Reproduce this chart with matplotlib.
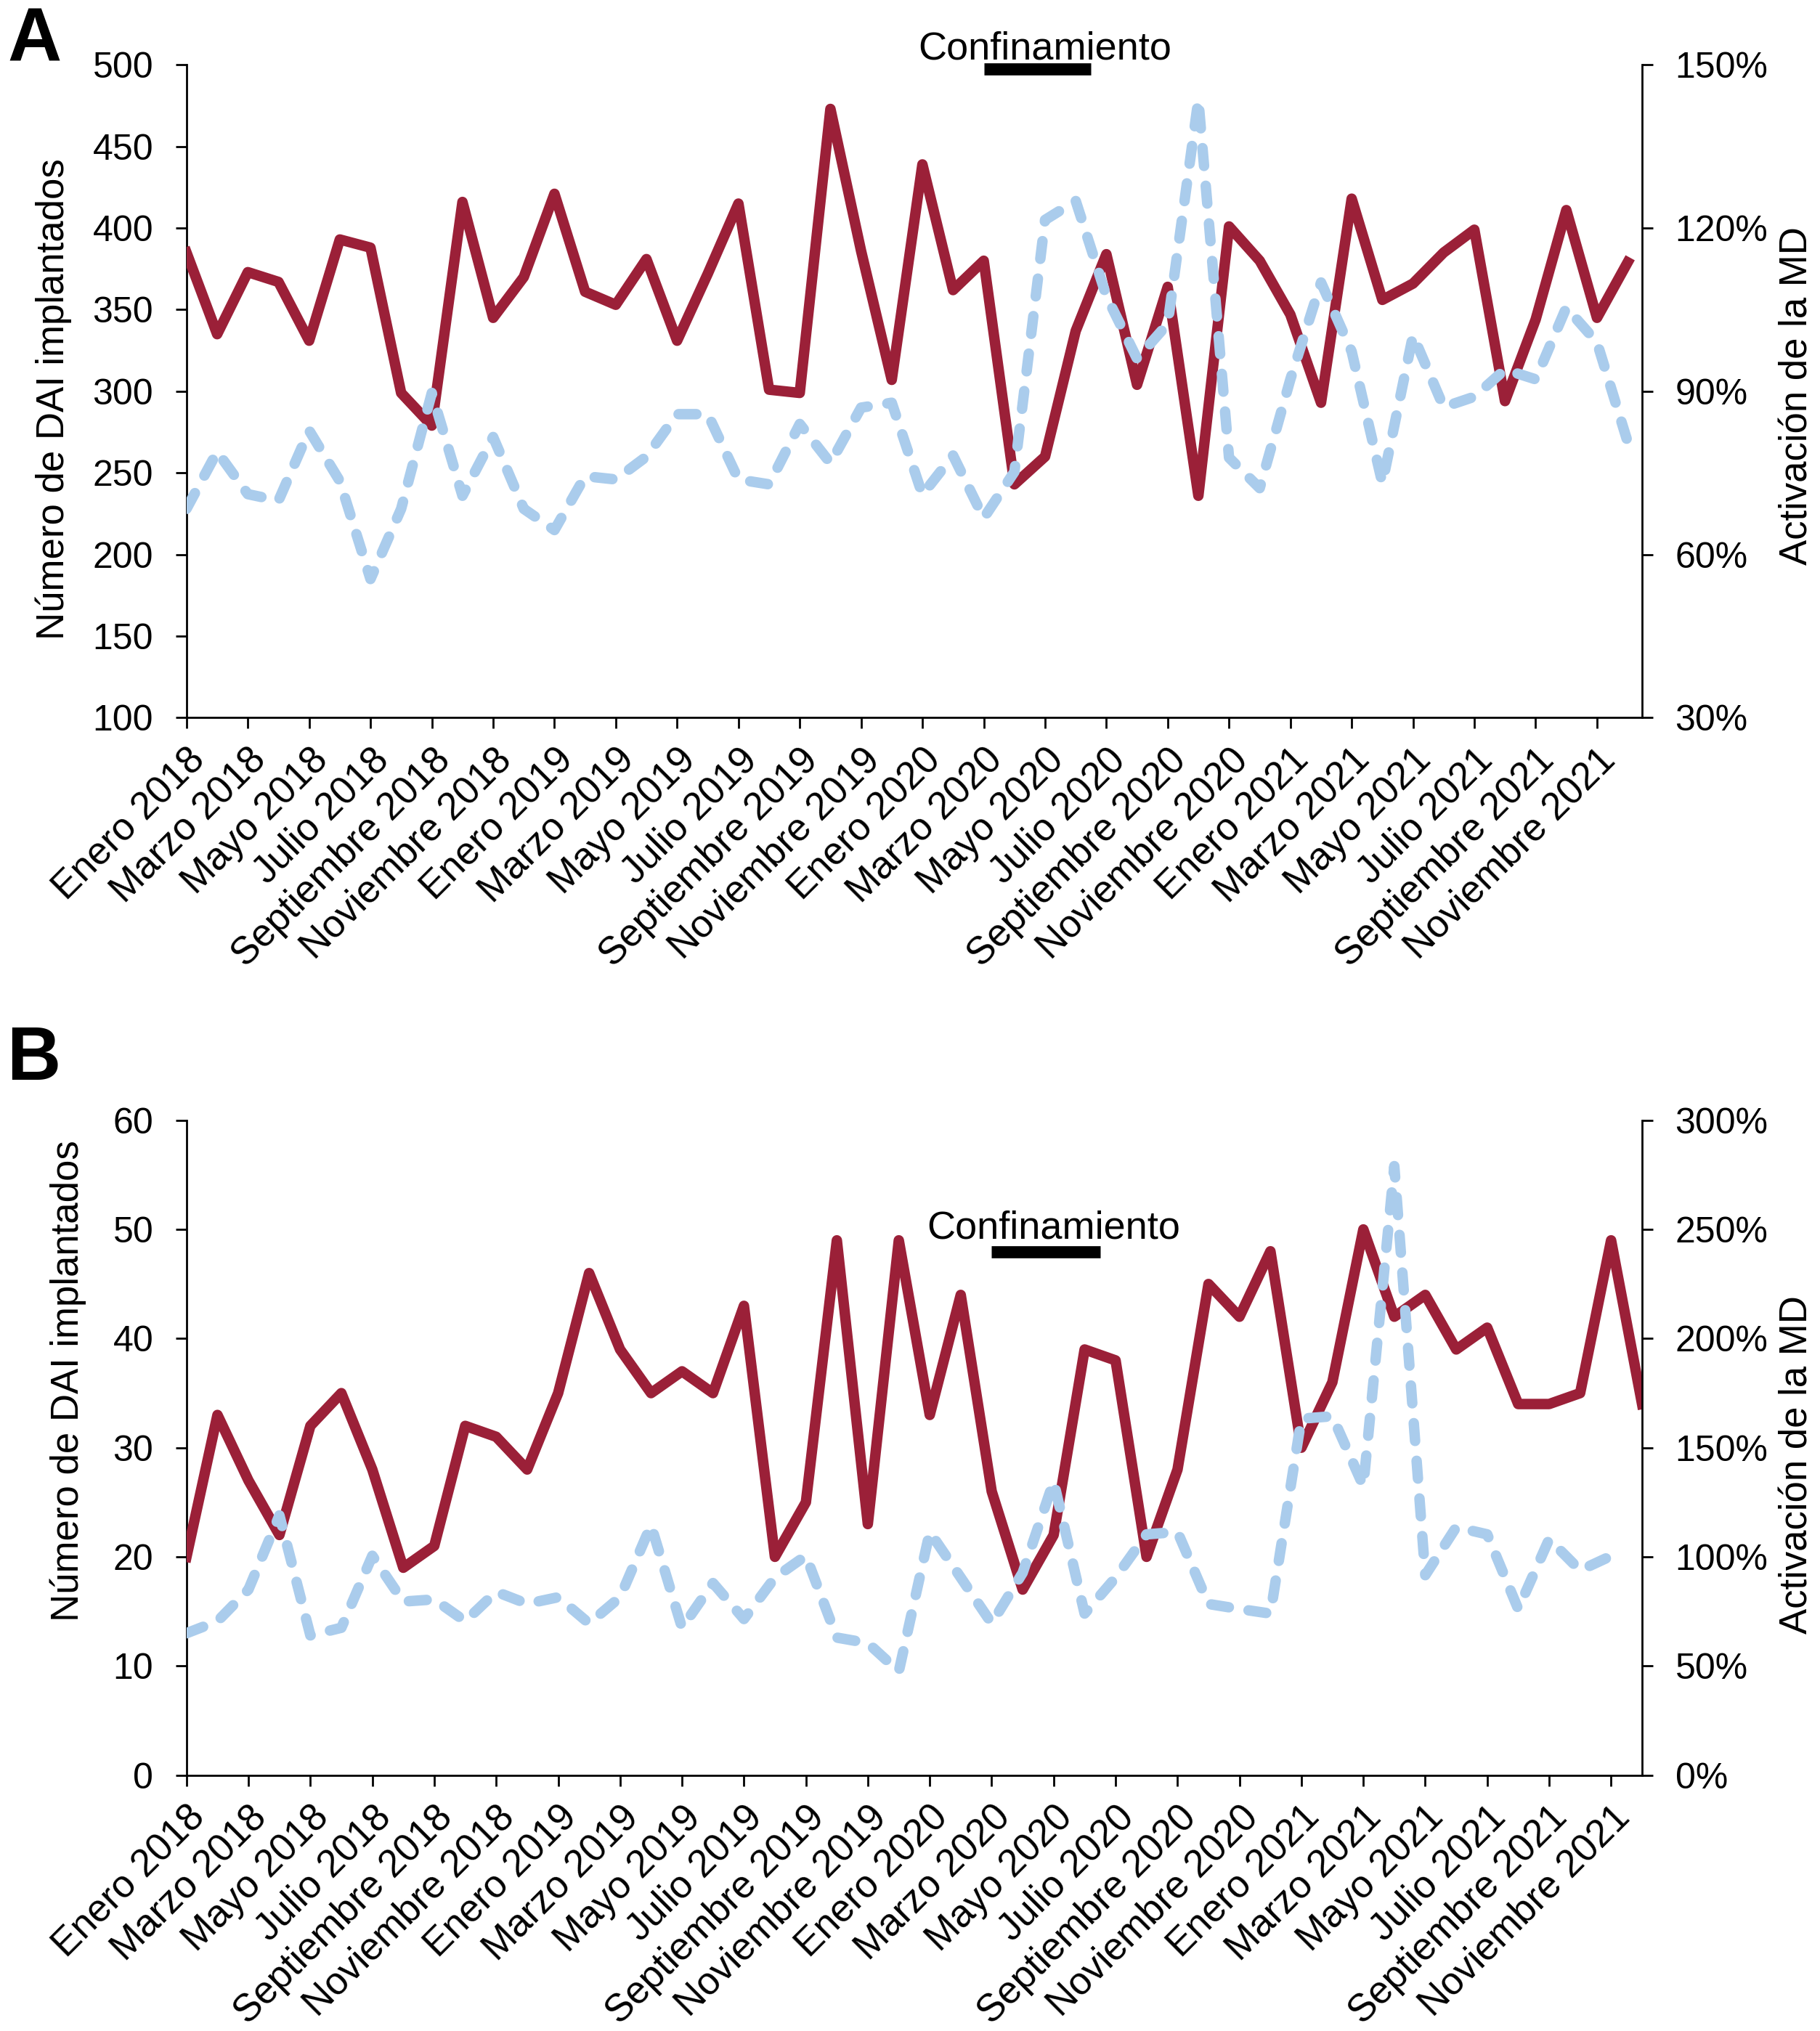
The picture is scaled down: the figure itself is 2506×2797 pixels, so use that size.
import numpy as np
import matplotlib
matplotlib.use("Agg")
import matplotlib.pyplot as plt
import matplotlib.transforms as mtransforms
from matplotlib.ticker import FuncFormatter, MultipleLocator

plt.rcParams['font.family'] = ['Liberation Sans', 'DejaVu Sans']

# monthly series, Enero 2018 .. Diciembre 2021
month_names = ["Enero", "Marzo", "Mayo", "Julio", "Septiembre", "Noviembre"]
years = [2018, 2019, 2020, 2021]
tick_labels = [f"{m} {y}" for y in years for m in month_names]

# panel A: number of ICD implanted (left) and remote monitoring activation % (right)
dai_a = [385, 335, 373, 367, 331, 393, 388, 299, 279, 416, 345, 370,
         421, 361, 353, 381, 331, 372, 415, 301, 299, 473, 386, 307,
         439, 362, 380, 243, 260, 337, 384, 304, 364, 236, 401, 380,
         347, 293, 418, 356, 366, 385, 399, 294, 344, 411, 345, 379]
md_a = [68.4, 78.9, 71.1, 69.9, 82.8, 73.5, 55.5, 68.4, 89.7, 70.8, 81.6, 68.4,
        64.5, 74.4, 73.8, 78.0, 85.8, 85.8, 73.8, 72.9, 84.0, 76.8, 87.0, 87.9,
        71.0, 78.2, 66.7, 75.2, 121.5, 125.0, 107.5, 96.0, 102.4, 143.6, 77.8, 72.2,
        92.2, 110.0, 97.3, 73.1, 100.3, 87.1, 89.0, 94.0, 92.2, 105.4, 99.0, 80.7]

# panel B
dai_b = [20, 33, 27, 22, 32, 35, 28, 19, 21, 32, 31, 28,
         35, 46, 39, 35, 37, 35, 43, 20, 25, 49, 23, 49,
         33, 44, 26, 17, 22, 39, 38, 20, 28, 45, 42, 48,
         30, 36, 50, 42, 44, 39, 41, 34, 34, 35, 49, 34]
md_b = [65, 70.5, 85, 119, 64, 67.5, 100.5, 79.5, 80.5, 70.5, 84, 78.5,
        81.5, 69.5, 81.5, 114.5, 67.5, 88, 71.5, 90.5, 100.5, 63, 60.5, 47.5,
        111.4, 90.5, 69.5, 92.7, 134.6, 74, 90.5, 110.3, 111.4, 78.4, 76.1, 74,
        163.3, 164.4, 132.4, 279, 91.6, 113.6, 110.3, 76.1, 108.1, 93.8, 100.4, np.nan]

# lockdown period (month index, Marzo 2020 -> mid Junio 2020)
lockdown = (26, 29.5)
lockdown_label = "Confinamiento"

RED = "#9B2038"
BLUE = "#AACCEC"

fig = plt.figure(figsize=(12.53, 13.985), dpi=200)


def draw_panel(rect, dai, md, xmax, ylim, ystep, y2lim, y2step, letter, letter_pos,
               lock_y, text_y, ylab_pos, ylab2_y):
    ax = fig.add_axes(rect)
    ax2 = ax.twinx()
    x = np.arange(len(dai))

    ax.plot(x, dai, color=RED, lw=5.2, solid_joinstyle="round", zorder=3)
    ax2.plot(x, md, color=BLUE, lw=5.2, dashes=(1.7, 1.9),
             dash_capstyle="round", dash_joinstyle="round", zorder=3)

    ax.set_xlim(0, xmax)
    ax.set_ylim(*ylim)
    ax.yaxis.set_major_locator(MultipleLocator(ystep))
    ax2.set_ylim(*y2lim)
    ax2.yaxis.set_major_locator(MultipleLocator(y2step))
    ax2.yaxis.set_major_formatter(FuncFormatter(lambda v, p: f"{v:.0f}%"))

    ax.set_xticks(np.arange(0, 48, 2))
    ax.set_xticklabels(tick_labels, rotation=45, ha="right", va="top",
                       rotation_mode="anchor")

    for a in (ax, ax2):
        a.tick_params(direction="out", length=5.4, width=1.0, labelsize=18, pad=11)
        for s in a.spines.values():
            s.set_linewidth(1.0)
        a.spines["top"].set_visible(False)
    ax.tick_params(axis="x", pad=6.5, labelsize=19)
    ax.spines["right"].set_visible(False)
    ax2.spines["left"].set_visible(False)
    ax2.spines["bottom"].set_visible(False)

    ax.set_ylabel("Número de DAI implantados", fontsize=19)
    ax.yaxis.set_label_coords(*ylab_pos)
    ax2.set_ylabel("Activación de la MD", fontsize=19)
    ax2.yaxis.set_label_coords(1.094, ylab2_y)

    # lockdown bar and label
    trans = mtransforms.blended_transform_factory(ax.transData, ax.transAxes)
    ax2.plot(list(lockdown), [lock_y, lock_y], transform=trans, color="black",
             lw=6, solid_capstyle="butt", clip_on=False, zorder=5)
    ax2.text(28, text_y, lockdown_label, transform=trans, ha="center",
             va="baseline", fontsize=19.5, clip_on=False)

    fig.text(letter_pos[0], letter_pos[1], letter, fontsize=37,
             fontweight="bold", ha="left", va="baseline")
    return ax, ax2


draw_panel([0.10247, 0.64659, 0.79976, 0.32149], dai_a, md_a, 47.47,
           (100, 500), 50, (30, 150), 30, "A", (0.004, 1 - 83 / 2797),
           0.9937, 1.0085, (-0.0788, 0.488), 0.493)
draw_panel([0.10247, 0.12599, 0.79976, 0.32242], dai_b, md_b, 47,
           (0, 60), 10, (0, 300), 50, "B", (0.0036, 1 - 1487 / 2797),
           0.7995, 0.8201, (-0.0689, 0.602), 0.474)

fig.savefig("out.png", dpi=200, facecolor="white")
